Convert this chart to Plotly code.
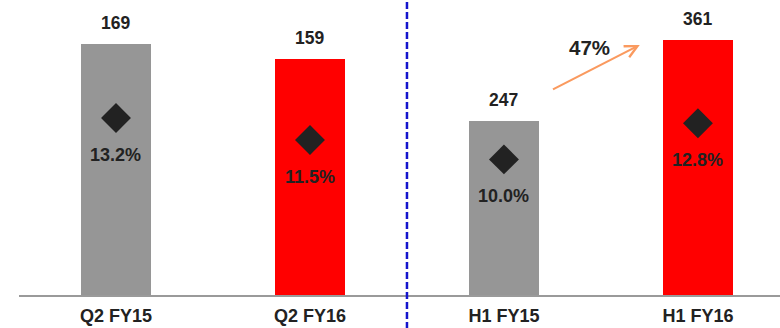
import plotly.graph_objects as go

# Quarterly (left) and half-year (right) revenue with margin markers
categories = ["Q2 FY15", "Q2 FY16", "H1 FY15", "H1 FY16"]
q2_values = [169, 159]
h1_values = [247, 361]
margins = [13.2, 11.5, 10.0, 12.8]
growth_label = "47%"

bar_colors = ["#969696", "#ff0000"]
text_color = "#222222"
font_family = "Liberation Sans, Arial, sans-serif"

pos = list(range(len(categories)))
bar_w = 0.36

fig = go.Figure()

# Q2 bars on their own scale
fig.add_trace(go.Bar(
    x=pos[:2], y=q2_values, width=bar_w, marker_color=bar_colors,
    marker_line_width=0, yaxis="y", hoverinfo="skip",
))
# H1 bars on a separate scale
fig.add_trace(go.Bar(
    x=pos[2:], y=h1_values, width=bar_w, marker_color=bar_colors,
    marker_line_width=0, yaxis="y2", hoverinfo="skip",
))
# margin diamonds
fig.add_trace(go.Scatter(
    x=pos, y=margins, mode="markers", yaxis="y3",
    marker=dict(symbol="diamond", size=23, color=text_color),
    hoverinfo="skip",
))

annotations = []
# value labels above bars
for i, v in zip(pos[:2], q2_values):
    annotations.append(dict(x=i, y=v, xref="x", yref="y", text=f"<b>{v}</b>",
                            showarrow=False, yanchor="bottom", yshift=9,
                            font=dict(size=17.5, color=text_color, family=font_family)))
for i, v in zip(pos[2:], h1_values):
    annotations.append(dict(x=i, y=v, xref="x", yref="y2", text=f"<b>{v}</b>",
                            showarrow=False, yanchor="bottom", yshift=9,
                            font=dict(size=17.5, color=text_color, family=font_family)))
# margin labels below diamonds
for i, m in zip(pos, margins):
    annotations.append(dict(x=i, y=m, xref="x", yref="y3", text=f"<b>{m:.1f}%</b>",
                            showarrow=False, yanchor="middle", yshift=-37,
                            font=dict(size=18, color=text_color, family=font_family)))

# growth arrow between the half-year bars
annotations.append(dict(
    x=2.70, y=354, xref="x", yref="y2",
    ax=2.245, ay=290, axref="x", ayref="y2",
    text="", showarrow=True, arrowhead=5, arrowsize=1.1, arrowwidth=2.2,
    arrowcolor="#fa9a5f",
))
annotations.append(dict(
    x=2.443, y=350, xref="x", yref="y2", text=f"<b>{growth_label}</b>",
    showarrow=False, font=dict(size=20.5, color=text_color, family=font_family),
))

fig.update_layout(
    width=780, height=328,
    margin=dict(l=19, r=0, t=0, b=33),
    paper_bgcolor="white", plot_bgcolor="white",
    showlegend=False, bargap=0,
    font=dict(family=font_family, color=text_color),
    xaxis=dict(
        range=[-0.5, 3.423], tickvals=pos,
        ticktext=[f"<b>{c}</b>" for c in categories],
        tickfont=dict(size=18, color=text_color, family=font_family),
        ticklabelstandoff=3,
        showgrid=False, zeroline=False, showline=True,
        linecolor="#9a9a9a", linewidth=2, ticks="", ticklen=0,
    ),
    yaxis=dict(range=[0, 198.6], visible=False, showgrid=False),
    yaxis2=dict(range=[0, 417.6], overlaying="y", visible=False, showgrid=False),
    yaxis3=dict(range=[-0.48, 22.32], overlaying="y", visible=False, showgrid=False),
    annotations=annotations,
    shapes=[dict(
        type="line", xref="x", yref="paper", x0=1.5, x1=1.5, y0=-0.115, y1=1.0,
        line=dict(color="#1414cc", width=2.5, dash="7px,3px"), layer="above",
    )],
)

fig.write_html("out.html")
